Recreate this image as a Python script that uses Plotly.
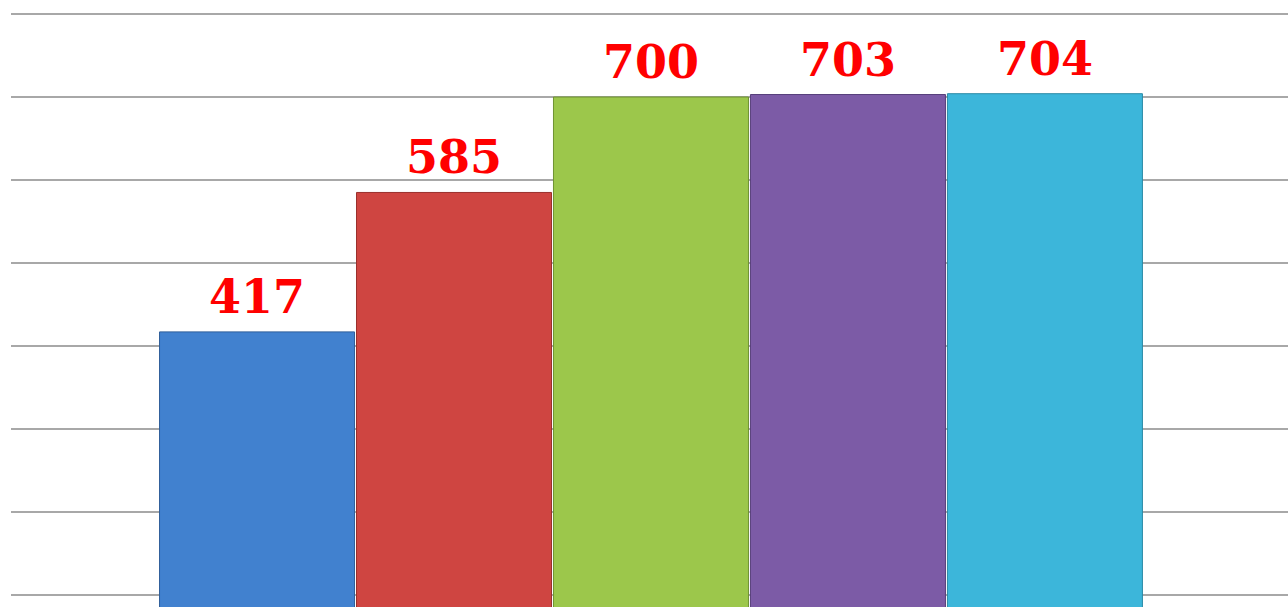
import plotly.graph_objects as go

categories = ["A", "B", "C", "D", "E"]
values = [417, 585, 700, 703, 704]
labels = ["417", "585", "700", "703", "704"]
colors = ["#4181cf", "#cf4541", "#9cc74b", "#7c5ba6", "#3cb6da"]
edge_colors = ["#2f5f9a", "#9a302c", "#6f9232", "#573f7a", "#2a8aa6"]

x_idx = list(range(len(categories)))

fig = go.Figure()
fig.add_trace(go.Bar(
    x=x_idx, y=values, width=0.99,
    marker=dict(color=colors, line=dict(color=edge_colors, width=1)),
    hoverinfo="skip",
))

for xi, v, t in zip(x_idx, values, labels):
    fig.add_annotation(
        x=xi, y=v, text=t, showarrow=False, yanchor="bottom", yshift=6,
        font=dict(family="DejaVu Serif", size=46, color="#ff0000", weight="bold"),
    )

fig.update_layout(
    width=1288, height=607,
    margin=dict(l=11, r=0, t=0, b=0),
    paper_bgcolor="white", plot_bgcolor="white",
    showlegend=False,
    xaxis=dict(range=[-1.249, 5.234], showgrid=False, zeroline=False,
               showticklabels=False, ticks=""),
    yaxis=dict(range=[85.5, 816.9], dtick=100, tick0=0, showgrid=True,
               gridcolor="#a8a8a8", gridwidth=1.5, zeroline=False,
               showticklabels=False, ticks=""),
)

fig.write_html(
    "out.html",
    config={"displayModeBar": False},
    post_script="document.body.style.margin='0';document.body.style.overflow='hidden';",
)
